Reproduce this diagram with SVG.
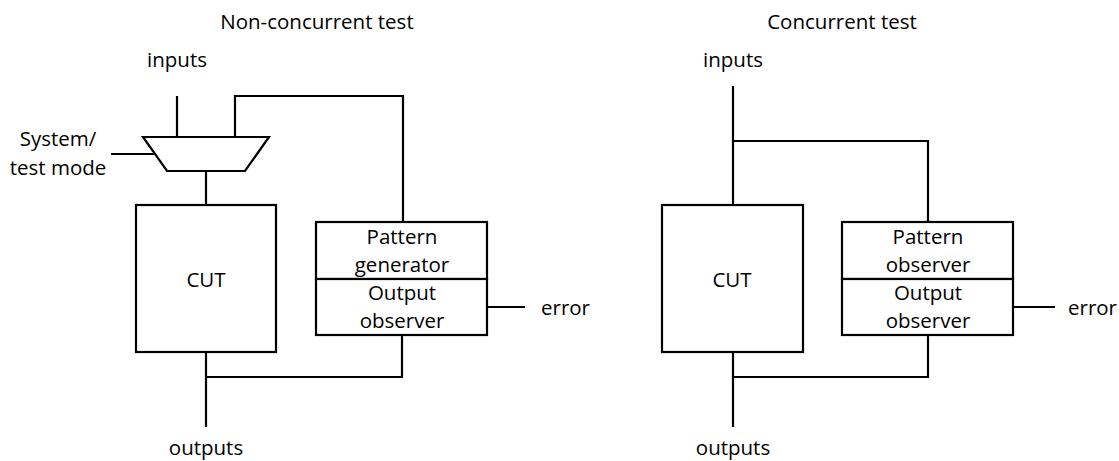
<svg xmlns="http://www.w3.org/2000/svg" width="1119" height="461" viewBox="0 0 1119 461">
  <style>
    .box { fill: #ffffff; stroke: #000000; stroke-width: 2.2; }
    .wire { fill: none; stroke: #000000; stroke-width: 2.2; stroke-linejoin: miter; stroke-linecap: butt; }
    text { font-family: "Open Sans", "Noto Sans", "Liberation Sans", sans-serif; font-size: 20.5px; fill: #000000; }
    .c { text-anchor: middle; }
    .e { text-anchor: end; }
  </style>
  <rect width="1119" height="461" fill="#ffffff"/>

  <!-- Titles -->
  <text class="c" x="317" y="29">Non-concurrent test</text>
  <text class="c" x="842" y="29">Concurrent test</text>

  <!-- Connectors -->
  <g id="connectors">
    <!-- non-concurrent -->
    <path class="wire" d="M177 96 V137"/>
    <path class="wire" d="M235 137 V96 H403 V222"/>
    <path class="wire" d="M111 154 H155"/>
    <path class="wire" d="M206 171 V205"/>
    <path class="wire" d="M206 352 V427"/>
    <path class="wire" d="M402 335 V377 H206"/>
    <path class="wire" d="M487 307 H525"/>
    <!-- concurrent -->
    <path class="wire" d="M733 86 V205"/>
    <path class="wire" d="M733 141 H928 V222"/>
    <path class="wire" d="M733 352 V427"/>
    <path class="wire" d="M928 335 V377 H733"/>
    <path class="wire" d="M1013 307 H1055"/>
  </g>

  <!-- Non-concurrent test -->
  <g id="nc-inputs"><text class="c" x="177" y="67">inputs</text></g>
  <g id="nc-mode">
    <text class="c" x="58" y="146">System/</text>
    <text class="c" x="58" y="175">test mode</text>
  </g>
  <g id="nc-mux">
    <polygon class="box" points="143,137 269,137 245,171 167,171"/>
  </g>
  <g id="nc-cut">
    <rect class="box" x="136" y="205" width="140" height="147"/>
    <text class="c" x="206" y="287">CUT</text>
  </g>
  <g id="nc-generator">
    <rect class="box" x="316" y="222" width="171" height="57"/>
    <text class="c" x="402" y="244">Pattern</text>
    <text class="c" x="402" y="272">generator</text>
  </g>
  <g id="nc-observer">
    <rect class="box" x="316" y="279" width="171" height="56"/>
    <text class="c" x="402" y="300">Output</text>
    <text class="c" x="402" y="328">observer</text>
  </g>
  <g id="nc-error"><text x="541" y="315">error</text></g>
  <g id="nc-outputs"><text class="c" x="206" y="455">outputs</text></g>

  <!-- Concurrent test -->
  <g id="c-inputs"><text class="c" x="733" y="67">inputs</text></g>
  <g id="c-cut">
    <rect class="box" x="662" y="205" width="141" height="147"/>
    <text class="c" x="732" y="287">CUT</text>
  </g>
  <g id="c-pattern-observer">
    <rect class="box" x="842" y="222" width="171" height="57"/>
    <text class="c" x="928" y="244">Pattern</text>
    <text class="c" x="928" y="272">observer</text>
  </g>
  <g id="c-output-observer">
    <rect class="box" x="842" y="279" width="171" height="56"/>
    <text class="c" x="928" y="300">Output</text>
    <text class="c" x="928" y="328">observer</text>
  </g>
  <g id="c-error"><text x="1068" y="315">error</text></g>
  <g id="c-outputs"><text class="c" x="733" y="455">outputs</text></g>
</svg>
